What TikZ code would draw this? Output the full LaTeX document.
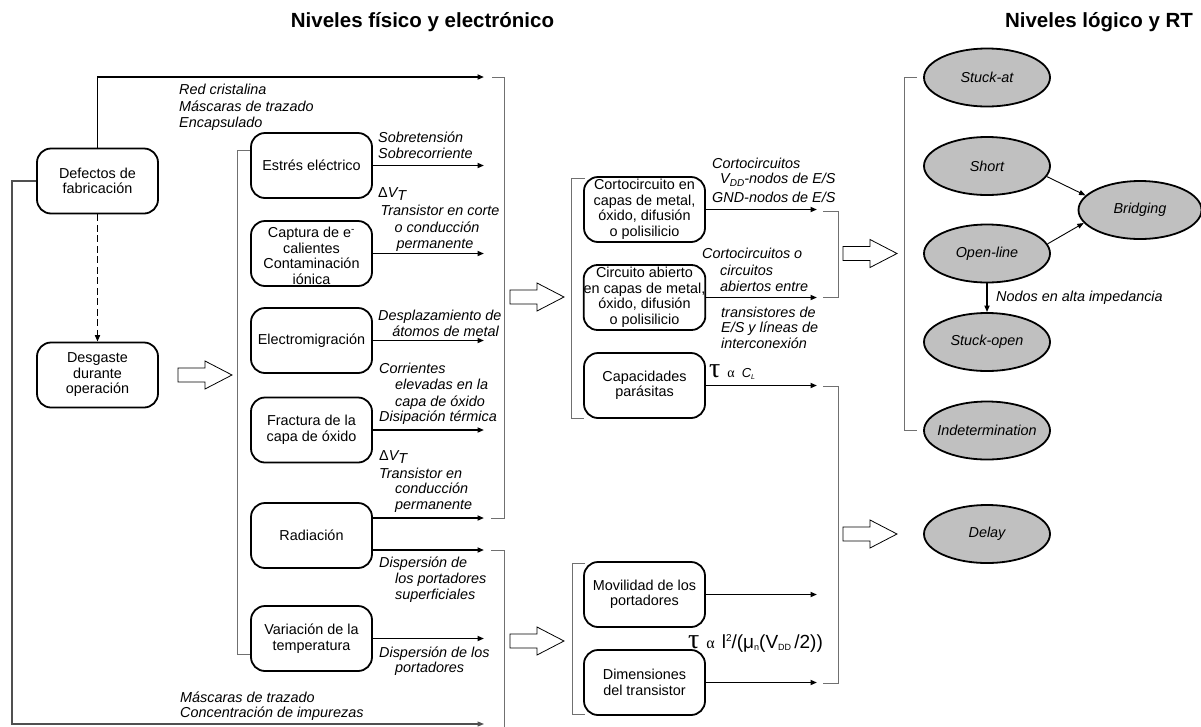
\documentclass[tikz,border=0pt]{standalone}
\usepackage{fontspec}
\setmainfont{Liberation Sans}
\newfontfamily\greekserif{Liberation Serif}
\usetikzlibrary{arrows.meta,shapes.geometric}
\definecolor{ovalgray}{HTML}{C0C0C0}
\definecolor{bracketgray}{HTML}{707070}
\definecolor{leftgray}{HTML}{505050}
\begin{document}
\begin{tikzpicture}[x=1pt,y=-1pt,
  box/.style={draw,line width=1.8pt,rounded corners=14pt,minimum width=121pt,
    minimum height=65pt,inner sep=0pt,align=center,font=\fontsize{14.4}{15.5}\selectfont},
  oval/.style={ellipse,draw,line width=1.8pt,fill=ovalgray,minimum width=126pt,
    minimum height=58pt,inner xsep=-18pt,inner ysep=0pt,font=\fontsize{14.4}{16}\selectfont\itshape},
  lbl/.style={inner sep=0pt,font=\fontsize{14.4}{16}\selectfont\itshape},
  title/.style={inner sep=0pt,anchor=base,font=\fontsize{20.5}{24}\selectfont\bfseries},
  conn/.style={line width=1.6pt,-{Triangle[length=6.5pt,width=5pt]}},
  thinconn/.style={line width=0.9pt,-{Triangle[length=6.5pt,width=5pt]}},
  brk/.style={line width=1pt,draw=bracketgray},
  blockarrow/.pic={\draw[line width=0.8pt,fill=white]
    (0,-7)--(27,-7)--(27,-14)--(54,0)--(27,14)--(27,7)--(0,7)--cycle;}]
\useasboundingbox (0,0) rectangle (1201,726);

% titles
\node[title] (t1) at (422.5,27) {Niveles físico y electrónico};
\node[title] (t2) at (1099,27) {Niveles lógico y RT};

% origin boxes
\node[box] (def) at (97.5,181) {Defectos de\\fabricación};
\node[box] (des) at (97.5,375) {Desgaste\\durante\\operación};

% physical mechanisms
\node[box] (est) at (311.5,165.5) {Estrés eléctrico};
\node[box] (cap) at (311.5,253.5) {\raisebox{0pt}[15pt][0pt]{}Captura de e\textsuperscript{-}\\calientes\\Contaminación\\iónica};
\node[box] (ele) at (311.5,340.5) {Electromigración};
\node[box] (fra) at (311.5,430) {Fractura de la\\capa de óxido};
\node[box] (rad) at (311.5,535.5) {Radiación};
\node[box] (var) at (311.5,638.5) {Variación de la\\temperatura};

% electrical effects
\node[box] (cor) at (644.5,209.5) {Cortocircuito en\\capas de metal,\\óxido, difusión\\o polisilicio};
\node[box] (abi) at (644.5,297.5) {Circuito abierto\\en capas de metal,\\óxido, difusión\\o polisilicio};
\node[box] (cpa) at (644.5,385.5) {Capacidades\\parásitas};
\node[box] (mov) at (644.5,594.5) {Movilidad de los\\portadores};
\node[box] (dim) at (644.5,682.5) {Dimensiones\\del transistor};

% logic level fault models
\node[oval] (sat) at (987,77.5) {Stuck-at};
\node[oval] (sho) at (987,166) {Short};
\node[oval,minimum width=123pt] (bri) at (1140,210) {Bridging};
\node[oval] (opl) at (987,253.5) {Open-line};
\node[oval] (sop) at (987,342) {Stuck-open};
\node[oval] (ind) at (987,430.5) {Indetermination};
\node[oval] (del) at (987,534) {Delay};

% arrow end points
\coordinate (xA) at (484,0);
\coordinate (xB) at (817,0);
\coordinate (topTip) at (484,77);
\coordinate (leftC) at (12,724);
\coordinate (botTip) at (484,724);
\coordinate (radU) at (484,518);
\coordinate (radD) at (484,550);

% manufacturing defects: direct paths
\draw[conn] (def.north) |- (topTip);
\draw[line width=1.1pt,draw=leftgray,-{Triangle[length=6.5pt,width=5pt]}] (def.west) -| (leftC) -- (botTip);
\draw[conn,dash pattern=on 7pt off 3.5pt] (def.south) -- (des.north);

% mechanism outputs
\draw[conn] (est.east) -- (est.east -| xA);
\draw[conn] (cap.east) -- (cap.east -| xA);
\draw[conn] (ele.east) -- (ele.east -| xA);
\draw[conn] (fra.east) -- (fra.east -| xA);
\draw[conn] (rad.east |- radU) -- (radU);
\draw[conn] (rad.east |- radD) -- (radD);
\draw[conn] (var.east) -- (var.east -| xA);

% effect outputs
\draw[conn] (cor.east) -- (cor.east -| xB);
\draw[conn] (abi.east) -- (abi.east -| xB);
\draw[conn] (cpa.east) -- (cpa.east -| xB);
\draw[conn] (mov.east) -- (mov.east -| xB);
\draw[conn] (dim.east) -- (dim.east -| xB);

% fault model relations
\draw[thinconn] (sho.-10.4) -- (bri.165.3);
\draw[thinconn] (opl.9.6) -- (bri.-167);
\draw[conn] (opl.south) -- (sop.north);

% grouping brackets
\draw[brk] (est.west |- 0,150) -- (237,150) -- (237,654) -- (var.west |- 0,654);
\draw[brk] (492,77) -- (504,77) -- (504,518) -- (491,518);
\draw[brk] (491,550) -- (504,550) -- (504,730);
\draw[brk] (585,178) -- (571,178) -- (571,418) -- (584,418);
\draw[brk] (585,563) -- (572,563) -- (572,714) -- (585,714);
\draw[brk] (823,211) -- (838,211) -- (838,297) -- (823,297);
\draw[brk] (823,386) -- (838,386) -- (838,683) -- (823,683);
\draw[brk] (917,77) -- (904,77) -- (904,430) -- (917,430);

% hollow block arrows
\pic at (178,375) {blockarrow};
\pic at (510,297) {blockarrow};
\pic at (510,641) {blockarrow};
\pic at (843,253.5) {blockarrow};
\pic at (843,534) {blockarrow};

% labels: manufacturing defects
\node[lbl,anchor=base west] (m1) at (179,94) {Red cristalina};
\node[lbl,anchor=base west] (m2) at (179,111) {Máscaras de trazado};
\node[lbl,anchor=base west] (m3) at (179,127) {Encapsulado};
\node[lbl,anchor=base west] (m4) at (180,702) {Máscaras de trazado};
\node[lbl,anchor=base west] (m5) at (180,717) {Concentración de impurezas};

% labels: mechanisms
\node[lbl,anchor=base west] (a1) at (378,142) {Sobretensión};
\node[lbl,anchor=base west] (a2) at (378,158) {Sobrecorriente};
\node[lbl,anchor=base west] (b1) at (378,197) {{\upshape Δ}V\raisebox{-3.5pt}{T}};
\node[lbl,anchor=base] (b2) at (440,215) {Transistor en corte};
\node[lbl,anchor=base] (b3) at (437,232) {o conducción};
\node[lbl,anchor=base] (b4) at (435,248) {permanente};
\node[lbl,anchor=base west] (c1) at (378,320) {Desplazamiento de};
\node[lbl,anchor=base east] (c2) at (499,336) {átomos de metal};
\node[lbl,anchor=base west] (d1) at (379,373) {Corrientes};
\node[lbl,anchor=base west] (d2) at (395,389) {elevadas en la};
\node[lbl,anchor=base west] (d3) at (395,406) {capa de óxido};
\node[lbl,anchor=base west] (d4) at (379,421) {Disipación térmica};
\node[lbl,anchor=base west] (e1) at (379,460) {{\upshape Δ}V\raisebox{-3.5pt}{T}};
\node[lbl,anchor=base west] (e2) at (379,478) {Transistor en};
\node[lbl,anchor=base west] (e3) at (395,493) {conducción};
\node[lbl,anchor=base west] (e4) at (395,509) {permanente};
\node[lbl,anchor=base west] (f1) at (379,567) {Dispersión de};
\node[lbl,anchor=base west] (f2) at (395,583) {los portadores};
\node[lbl,anchor=base west] (f3) at (395,599) {superficiales};
\node[lbl,anchor=base west] (g1) at (379,657) {Dispersión de los};
\node[lbl,anchor=base west] (g2) at (395,672) {portadores};

% labels: electrical effects
\node[lbl,anchor=base west] (h1) at (712,168) {Cortocircuitos};
\node[lbl,anchor=base west] (h2) at (720,183) {V\raisebox{-3pt}{\fontsize{10}{10}\selectfont DD}-nodos de E/S};
\node[lbl,anchor=base west] (h3) at (712,202) {GND-nodos de E/S};
\node[lbl,anchor=base west] (i1) at (702,258) {Cortocircuitos o};
\node[lbl,anchor=base west] (i2) at (720,275) {circuitos};
\node[lbl,anchor=base west] (i3) at (720,291) {abiertos entre};
\node[lbl,anchor=base west] (i4) at (721,317) {transistores de};
\node[lbl,anchor=base west] (i5) at (721,332) {E/S y líneas de};
\node[lbl,anchor=base west] (i6) at (721,348) {interconexión};
\node[inner sep=0pt,anchor=base west] (tauC) at (709,377)
  {{\greekserif\fontsize{28}{28}\selectfont τ}\hspace{7pt}{\greekserif\fontsize{14}{14}\selectfont α}\hspace{7pt}{\fontsize{13}{13}\selectfont\itshape C\raisebox{-2pt}{\fontsize{7}{7}\selectfont L}}};
\node[inner sep=0pt,anchor=base west] (tauL) at (688,648)
  {{\greekserif\fontsize{28}{28}\selectfont τ}\hspace{7pt}{\greekserif\fontsize{16}{16}\selectfont α}\hspace{7pt}{\fontsize{19}{19}\selectfont l\raisebox{6.5pt}{\fontsize{10}{10}\selectfont 2}/(μ\raisebox{-2pt}{\fontsize{9}{9}\selectfont n}(V\raisebox{-2pt}{\fontsize{9}{9}\selectfont DD}\,/2))}};

% label: open line
\node[lbl,anchor=base west] (n1) at (996,301) {Nodos en alta impedancia};

\end{tikzpicture}
\end{document}
